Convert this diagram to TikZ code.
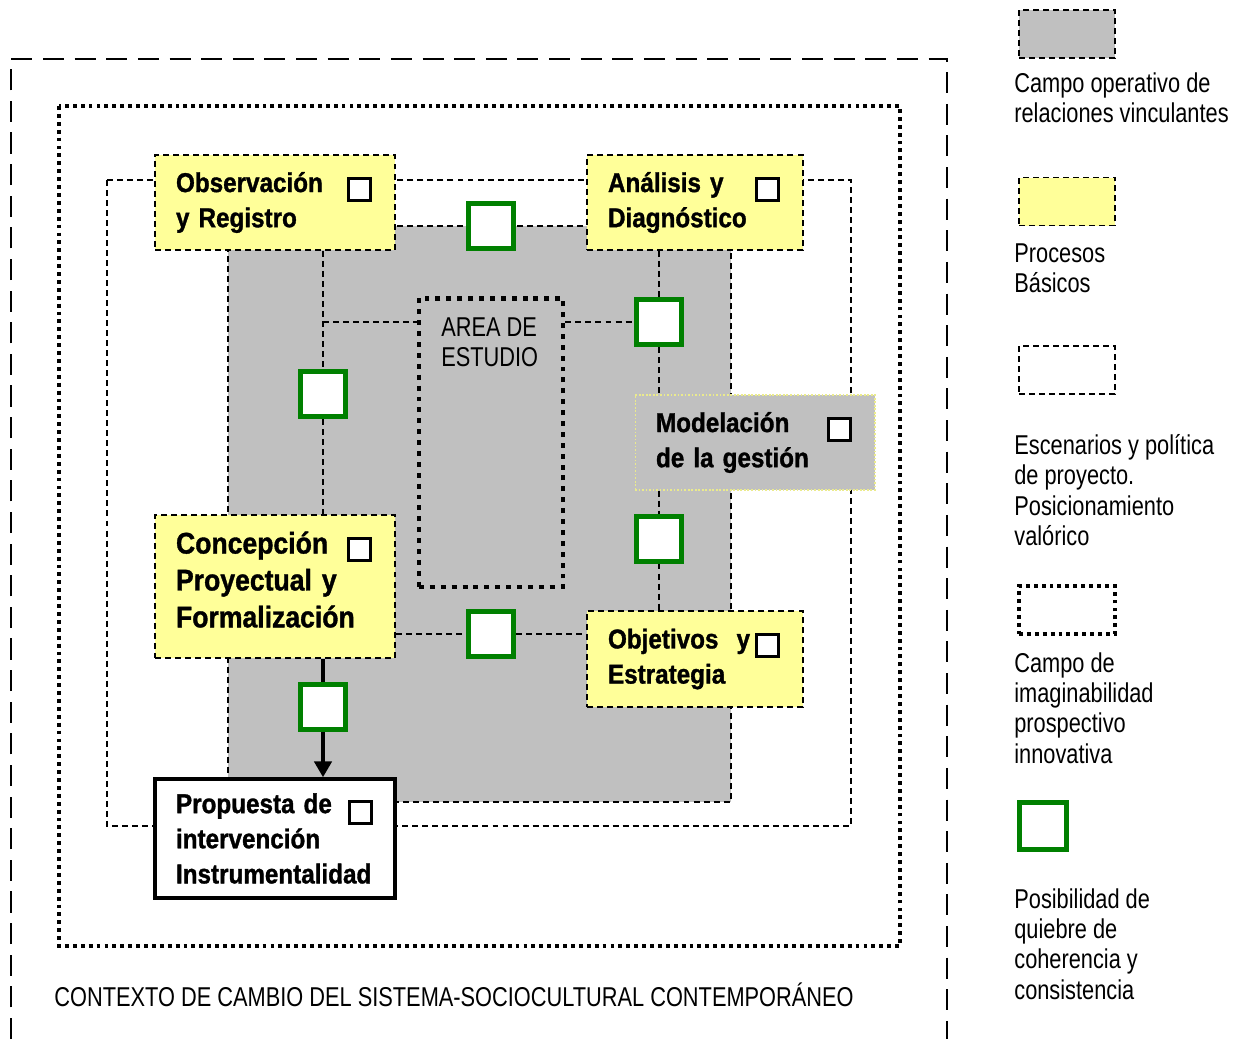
\documentclass[tikz,border=0pt]{standalone}
\usepackage{fontspec}
\setmainfont{Liberation Sans}[FakeStretch=0.8,BoldFeatures={FakeStretch=0.89,FakeBold=1.2}]
\usepackage{tikz}
\usetikzlibrary{arrows.meta,positioning,calc}

\definecolor{campo}{RGB}{192,192,192}
\definecolor{proceso}{RGB}{255,255,153}
\definecolor{quiebre}{RGB}{0,128,0}
\definecolor{modborde}{RGB}{235,235,140}

\tikzset{
  txt/.style={font=\fontsize{15.5}{17.3}\selectfont, align=left, inner sep=0pt},
  link/.style={line width=1.1pt, dash pattern=on 3.4pt off 2.3pt},
  puntos/.style={line width=2.3pt, dash pattern=on 2.2pt off 2.3pt},
  proc/.style={draw, fill=proceso, link, align=left, inner xsep=0.42cm, inner ysep=0pt,
    font=\bfseries\fontsize{15.5}{20}\selectfont},
  chk/.style={draw, fill=white, line width=1.7pt, minimum size=0.44cm, inner sep=0pt,
    xshift=-0.72cm, yshift=-0.71cm},
  brk/.style={draw=quiebre, fill=white, line width=2.85pt, minimum size=0.9cm, inner sep=0pt},
  legbox/.style={draw, minimum width=1.92cm, minimum height=0.96cm, inner sep=0pt},
  flow/.style={line width=2.8pt}
}

\begin{document}
\begin{tikzpicture}[x=0.02cm,y=-0.02cm]
  \useasboundingbox (0,0) rectangle (1243,1039);

  % Contexto de cambio
  \draw[line width=1.1pt, dash pattern=on 12pt off 6pt] (11,1039) -- (11,59) -- (947,59) -- (947,1039);
  \node[txt, anchor=base west] (contexto) at (54,1006) {CONTEXTO DE CAMBIO DEL SISTEMA-SOCIOCULTURAL CONTEMPORÁNEO};

  % Campo de imaginabilidad, escenarios, campo operativo
  \draw[puntos] (59,106) rectangle (900,946);
  \draw[link] (107,180) rectangle (851,826);
  \draw[link, fill=campo] (228,226) rectangle (731,802);

  % Area de estudio
  \node[draw, line width=2.8pt, dash pattern=on 2.8pt off 3.4pt, minimum width=2.88cm, minimum height=5.78cm] (area) at (491,442.5) {};
  \node[txt, anchor=north west] (areatxt) at (441,317) {AREA DE\\ESTUDIO};

  % Procesos
  \node[proc, text width=3.96cm, minimum height=1.9cm] (obs) at (275,202.5) {Observación\\y Registro};
  \node[proc, text width=3.48cm, minimum height=1.9cm] (ana) at (695,202.5) {Análisis y\\Diagnóstico};
  \node[proc, fill=campo, draw=modborde, line width=0.6pt, dash pattern=on 1pt off 1pt,
    text width=3.96cm, minimum height=1.9cm] (mod) at (755,442.5) {Modelación\\de la gestión};
  \node[proc, text width=3.96cm, minimum height=2.86cm, font=\bfseries\fontsize{17}{21}\selectfont]
    (conc) at (275,586.5) {Concepción\\Proyectual y\\Formalización\\[-13pt]\mbox{}};
  \node[proc, text width=3.48cm, minimum height=1.92cm] (obj) at (695,659) {Objetivos \ y\\Estrategia};
  \node[proc, fill=white, solid, line width=2pt, text width=3.96cm, minimum height=2.38cm] (prop) at (275,838.5) {Propuesta de\\intervención\\Instrumentalidad};

  % Casillas
  \foreach \n in {obs,ana,mod,conc,obj,prop}
    \node[chk] (chk-\n) at (\n.north east) {};

  % Posibles quiebres
  \node[brk] (g1) at (491,226) {};
  \node[brk] (g2) at (659,322) {};
  \node[brk] (g3) at (323,394) {};
  \node[brk] (g4) at (659,538.5) {};
  \node[brk] (g5) at (491,634) {};
  \node[brk] (g6) at (323,706.5) {};

  % Relaciones
  \draw[link] (obs.south -| g3) -- (g3.north);
  \draw[link] (g3.south) -- (conc.north -| g3);
  \draw[link] (g3 |- g2) -- (area.west |- g2);
  \draw[link] (area.east |- g2) -- (g2.west);
  \draw[link] (ana.south -| g2) -- (g2.north);
  \draw[link] (g2.south) -- (mod.north -| g2);
  \draw[link] (mod.south -| g2) -- (g4.north);
  \draw[link] (g4.south) -- (obj.north -| g4);
  \draw[link] (conc.east |- g5) -- (g5.west);
  \draw[link] (g5.east) -- (obj.west |- g5);
  \draw[flow] (conc.south -| g6) -- (g6.north);
  \draw[flow, -{Triangle[width=9.7pt,length=9pt]}] (g6.south) -- (prop.north -| g6);

  % Leyenda
  \node[legbox, fill=campo, link] (leg-campo) at (1067,34) {};
  \node[txt, anchor=north west] (legtxt-campo) at (1014,72) {Campo operativo de\\relaciones vinculantes};
  \node[legbox, fill=proceso, link] (leg-proc) at (1067,201.5) {};
  \node[txt, anchor=north west] (legtxt-proc) at (1014,243) {Procesos\\Básicos};
  \node[legbox, link] (leg-esc) at (1067,370) {};
  \node[txt, anchor=north west] (legtxt-esc) at (1014,434) {Escenarios y política\\de proyecto.\\Posicionamiento\\valórico};
  \node[legbox, puntos] (leg-imag) at (1067,610) {};
  \node[txt, anchor=north west] (legtxt-imag) at (1014,652) {Campo de\\imaginabilidad\\prospectivo\\innovativa};
  \node[brk, minimum size=0.94cm] (leg-brk) at (1043,826) {};
  \node[txt, anchor=north west] (legtxt-brk) at (1014,888) {Posibilidad de\\quiebre de\\coherencia y\\consistencia};
\end{tikzpicture}
\end{document}
